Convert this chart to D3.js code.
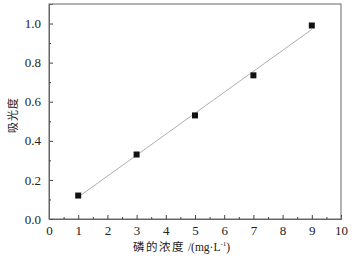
<!DOCTYPE html>
<html>
<head>
<meta charset="utf-8">
<script src="https://cdn.jsdelivr.net/npm/d3@7"></script>
<style>
  body { margin: 0; background: #fff; }
  svg text { fill: #222; }
</style>
</head>
<body>
<div id="chart"></div>
<script>
// Data
const concentration = [1, 3, 5, 7, 9];
const absorbance = [0.12, 0.33, 0.53, 0.735, 0.99];
const xTicks = [0, 1, 2, 3, 4, 5, 6, 7, 8, 9, 10];
const yTicks = [0, 0.2, 0.4, 0.6, 0.8, 1.0];

const serif = '"Liberation Serif", "DejaVu Serif", serif';
const cjk = '"Noto Sans CJK SC", sans-serif';

const width = 354, height = 262;
const margin = { top: 4, right: 13, bottom: 43, left: 49 };
const innerW = width - margin.left - margin.right;
const innerH = height - margin.top - margin.bottom;

const svg = d3.select('#chart').append('svg')
    .attr('width', width)
    .attr('height', height);

const chart = svg.append('g')
    .attr('transform', `translate(${margin.left}, ${margin.top})`);

const scaleX = d3.scaleLinear().domain([0, 10.0]).range([0, innerW]);
const scaleY = d3.scaleLinear().domain([0, 1.1]).range([innerH, 0]);

// frame
chart.append('rect')
    .attr('width', innerW).attr('height', innerH)
    .attr('fill', 'none').attr('stroke', '#666').attr('stroke-width', 1);

// axes with inward ticks
const axisX = chart.append('g')
    .attr('transform', `translate(0, ${innerH})`)
    .call(d3.axisBottom(scaleX).tickValues(xTicks).tickSize(-4).tickPadding(7).tickFormat(d3.format('d')));
const axisXMinor = chart.append('g')
    .attr('transform', `translate(0, ${innerH})`)
    .call(d3.axisBottom(scaleX).tickValues(d3.range(0.5, 10, 1)).tickSize(-2).tickFormat(''));

const axisY = chart.append('g')
    .call(d3.axisLeft(scaleY).tickValues(yTicks).tickSize(-4).tickPadding(8).tickFormat(d3.format('.1f')));
const axisYMinor = chart.append('g')
    .call(d3.axisLeft(scaleY).tickValues(d3.range(0.1, 1.1, 0.2)).tickSize(-2).tickFormat(''));

[axisX, axisXMinor, axisY, axisYMinor].forEach(a => {
    a.attr('font-family', serif).attr('font-size', 13);
    a.select('.domain').attr('stroke', '#666');
    a.selectAll('.tick line').attr('stroke', '#444');
    a.selectAll('.tick text').attr('fill', '#222');
});

// linear fit line
const mx = d3.mean(concentration), my = d3.mean(absorbance);
const slope = d3.sum(concentration, (x, i) => (x - mx) * (absorbance[i] - my)) /
    d3.sum(concentration, x => (x - mx) * (x - mx));
const intercept = my - slope * mx;
chart.append('path')
    .datum(d3.extent(concentration))
    .attr('d', d3.line().x(d => scaleX(d)).y(d => scaleY(intercept + slope * d)))
    .attr('fill', 'none')
    .attr('stroke', '#999')
    .attr('stroke-width', 0.8);

// points
chart.selectAll('rect.pt')
    .data(concentration)
    .join('rect')
    .classed('pt', true)
    .attr('x', d => scaleX(d) - 3)
    .attr('y', (d, i) => scaleY(absorbance[i]) - 3)
    .attr('width', 6).attr('height', 6)
    .attr('fill', '#111');

// labels
const xl = svg.append('text')
    .attr('x', 133)
    .attr('y', 251)
    .attr('font-size', 11.5)
    .attr('font-family', serif);
xl.append('tspan').attr('font-family', cjk).attr('letter-spacing', 1.5).text('磷的浓度');
xl.append('tspan').text(' /(mg·L');
xl.append('tspan').attr('dy', -5).attr('font-size', 7).text('-1');
xl.append('tspan').attr('dy', 5).text(')');

svg.append('text')
    .attr('transform', `translate(17, 115) rotate(-90)`)
    .attr('text-anchor', 'middle')
    .attr('font-size', 11)
    .attr('font-family', cjk)
    .attr('letter-spacing', 1)
    .text('吸光度');
</script>
</body>
</html>
